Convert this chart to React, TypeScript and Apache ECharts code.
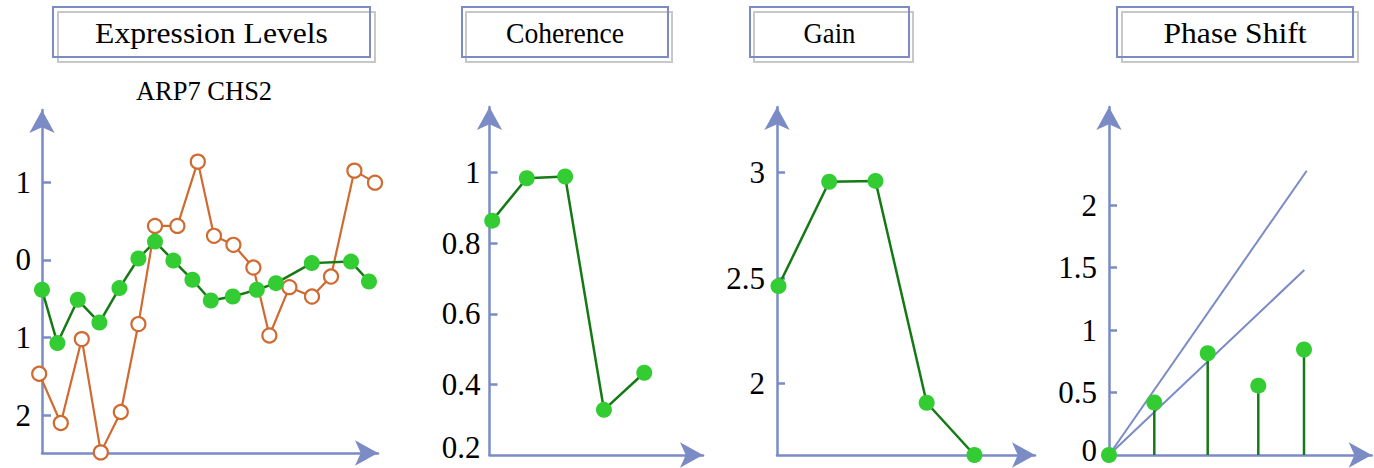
import React, { useEffect, useRef } from "react";
import * as echarts from "echarts";

const FONT = "'Liberation Serif', 'Times New Roman', serif";
const AXIS_BLUE = "#7a8bc6";
const LINE_GREEN = "#157a15";
const DOT_GREEN = "#33cc33";
const ORANGE = "#cf6a30";
const SHADOW_GRAY = "#c8c8c8";

// Panel 1: Expression Levels
const exprGreenX = [0, 0.77, 1.79, 2.87, 3.87, 4.82, 5.65, 6.57, 7.52, 8.44, 9.54, 10.74, 11.7, 13.49, 15.45, 16.35];
const exprGreenY = [-0.385, -1.072, -0.514, -0.807, -0.363, 0.018, 0.237, -0.008, -0.256, -0.523, -0.472, -0.385, -0.299, -0.041, -0.021, -0.278];
const exprOrangeX = [-0.14, 0.94, 1.99, 2.94, 3.94, 4.82, 5.65, 6.77, 7.79, 8.6, 9.57, 10.57, 11.37, 12.37, 13.5, 14.45, 15.62, 16.65];
const exprOrangeY = [-1.468, -2.103, -1.021, -2.482, -1.961, -0.827, 0.439, 0.439, 1.268, 0.311, 0.195, -0.098, -0.974, -0.351, -0.472, -0.214, 1.152, 0.997];
const exprTicks = [-2, -1, 0, 1];

// Panel 2: Coherence
const cohX = [0.07, 0.97, 1.97, 2.98, 4.03];
const cohY = [0.864, 0.984, 0.989, 0.328, 0.433];
const cohTicks = [0.2, 0.4, 0.6, 0.8, 1];

// Panel 3: Gain
const gainX = [0.03, 1.06, 2.0, 3.04, 4.01];
const gainY = [2.462, 2.957, 2.961, 1.908, 1.66];
const gainTicks = [2, 2.5, 3];

// Panel 4: Phase Shift
const phaseX = [0, 0.906, 1.974, 2.986, 3.9];
const phaseY = [0, 0.42, 0.815, 0.555, 0.845];
const phaseTicks = [0, 0.5, 1, 1.5, 2];
const boundEndX = [3.954, 3.906];
const boundEndY = [2.276, 1.481];

const titles = [
  { text: "Expression Levels", x: 53, w: 317, dx: 5, scale: 1.055 },
  { text: "Coherence", x: 462, w: 206, dx: 4, scale: 0.92 },
  { text: "Gain", x: 750, w: 159, dx: 4, scale: 0.89 },
  { text: "Phase Shift", x: 1117, w: 236, dx: 5, scale: 1.053 },
];
const subtitle = "ARP7 CHS2";

const zip = (xs: number[], ys: number[]) => xs.map((x, i) => [x, ys[i]]);

const ARROW_SIZE = [19, 23];
const TICK_FONT = 31;

function xAxis(gridIndex: number, min: number, max: number) {
  return {
    type: "value",
    gridIndex,
    min,
    max,
    axisLine: {
      show: true,
      onZero: false,
      symbol: ["none", "arrow"],
      symbolSize: ARROW_SIZE,
      lineStyle: { color: AXIS_BLUE, width: 2.5 },
    },
    axisTick: { show: false },
    axisLabel: { show: false },
    splitLine: { show: false },
  };
}

function yAxis(
  gridIndex: number,
  min: number,
  max: number,
  labels: number[],
  ticks: number[],
  margin: number,
  tickLen: number,
  extraLabel: any = {}
) {
  return {
    type: "value",
    gridIndex,
    min,
    max,
    axisLine: {
      show: true,
      onZero: false,
      symbol: ["none", "arrow"],
      symbolSize: ARROW_SIZE,
      lineStyle: { color: AXIS_BLUE, width: 2.5 },
    },
    axisTick: {
      show: true,
      inside: true,
      length: tickLen,
      customValues: ticks,
      lineStyle: { color: AXIS_BLUE, width: 2.5 },
    },
    axisLabel: {
      show: true,
      customValues: labels,
      margin,
      color: "#000",
      fontFamily: FONT,
      fontSize: TICK_FONT,
      lineHeight: 22,
      ...extraLabel,
    },
    splitLine: { show: false },
  };
}

export default function App() {
  const ref = useRef<HTMLDivElement>(null);

  useEffect(() => {
    if (!ref.current) return;
    const chart = echarts.init(ref.current, null, { renderer: "svg" });

    const graphic: any[] = [];
    titles.forEach((t) => {
      graphic.push({
        type: "rect",
        shape: { x: t.x + t.dx, y: 12, width: t.w, height: 50 },
        style: { fill: "none", stroke: SHADOW_GRAY, lineWidth: 2 },
        z: 1,
      });
      graphic.push({
        type: "rect",
        shape: { x: t.x, y: 7, width: t.w, height: 50 },
        style: { fill: "none", stroke: AXIS_BLUE, lineWidth: 2 },
        z: 2,
      });
      graphic.push({
        type: "text",
        x: t.x + t.w / 2,
        y: 33,
        scaleX: t.scale,
        style: {
          text: t.text,
          fontFamily: FONT,
          fontSize: 30,
          fill: "#000",
          align: "center",
          verticalAlign: "middle",
        },
        z: 3,
      });
    });
    graphic.push({
      type: "text",
      x: 204,
      y: 91,
      style: {
        text: subtitle,
        fontFamily: FONT,
        fontSize: 26.5,
        fill: "#000",
        align: "center",
        verticalAlign: "middle",
      },
    });

    const option: any = {
      animation: false,
      backgroundColor: "#fff",
      graphic,
      grid: [
        { left: 42, top: 110, width: 336, height: 343 },
        { left: 489.5, top: 107, width: 213.5, height: 348 },
        { left: 777, top: 107, width: 258, height: 348 },
        { left: 1109, top: 107, width: 262.7, height: 348 },
      ],
      xAxis: [
        xAxis(0, 0, 16.8),
        xAxis(1, 0, 5.56),
        xAxis(2, 0, 5.24),
        xAxis(3, 0, 5.254),
      ],
      yAxis: [
        yAxis(0, -2.49, 1.934, exprTicks, exprTicks, 11, 9, {
          formatter: (v: number) => String(Math.abs(v)),
        }),
        yAxis(1, 0.2, 1.186, cohTicks, [0.4, 0.6, 0.8, 1], 9, 8, {
          lineHeight: 16,
          verticalAlignMinLabel: "bottom",
        }),
        yAxis(2, 1.66, 3.312, gainTicks, gainTicks, 12, 8),
        yAxis(3, 0, 2.786, phaseTicks, [0.5, 1, 1.5, 2], 12, 8, {
          lineHeight: 10,
          verticalAlignMinLabel: "bottom",
        }),
      ],
      series: [
        {
          type: "line",
          xAxisIndex: 0,
          yAxisIndex: 0,
          data: zip(exprOrangeX, exprOrangeY),
          symbol: "circle",
          symbolSize: 14,
          showAllSymbol: true,
          clip: false,
          lineStyle: { color: ORANGE, width: 2.2 },
          itemStyle: { color: "#fff", borderColor: ORANGE, borderWidth: 2.2 },
          z: 2,
        },
        {
          type: "line",
          xAxisIndex: 0,
          yAxisIndex: 0,
          data: zip(exprGreenX, exprGreenY),
          symbol: "circle",
          symbolSize: 16,
          showAllSymbol: true,
          clip: false,
          lineStyle: { color: LINE_GREEN, width: 2.5 },
          itemStyle: { color: DOT_GREEN },
          z: 3,
        },
        {
          type: "line",
          xAxisIndex: 1,
          yAxisIndex: 1,
          data: zip(cohX, cohY),
          symbol: "circle",
          symbolSize: 16,
          clip: false,
          lineStyle: { color: LINE_GREEN, width: 2.5 },
          itemStyle: { color: DOT_GREEN },
          z: 3,
        },
        {
          type: "line",
          xAxisIndex: 2,
          yAxisIndex: 2,
          data: zip(gainX, gainY),
          symbol: "circle",
          symbolSize: 16,
          clip: false,
          lineStyle: { color: LINE_GREEN, width: 2.5 },
          itemStyle: { color: DOT_GREEN },
          z: 3,
        },
        ...boundEndX.map((bx, i) => ({
          type: "line",
          xAxisIndex: 3,
          yAxisIndex: 3,
          data: [
            [0, 0],
            [bx, boundEndY[i]],
          ],
          showSymbol: false,
          symbol: "none",
          clip: false,
          lineStyle: { color: AXIS_BLUE, width: 2 },
          z: 2,
        })),
        {
          type: "custom",
          xAxisIndex: 3,
          yAxisIndex: 3,
          data: zip(phaseX, phaseY),
          clip: false,
          renderItem: (params: any, api: any) => {
            const p0 = api.coord([api.value(0), 0]);
            const p1 = api.coord([api.value(0), api.value(1)]);
            return {
              type: "line",
              shape: { x1: p0[0], y1: p0[1], x2: p1[0], y2: p1[1] },
              style: { stroke: LINE_GREEN, lineWidth: 2.5 },
            };
          },
          z: 3,
        },
        {
          type: "scatter",
          xAxisIndex: 3,
          yAxisIndex: 3,
          data: zip(phaseX, phaseY),
          symbol: "circle",
          symbolSize: 16,
          clip: false,
          itemStyle: { color: DOT_GREEN, opacity: 1 },
          z: 4,
        },
      ],
    };

    chart.setOption(option);
    return () => chart.dispose();
  }, []);

  return (
    <div
      ref={ref}
      style={{ position: "absolute", left: 0, top: 0, width: 1374, height: 468 }}
    />
  );
}
